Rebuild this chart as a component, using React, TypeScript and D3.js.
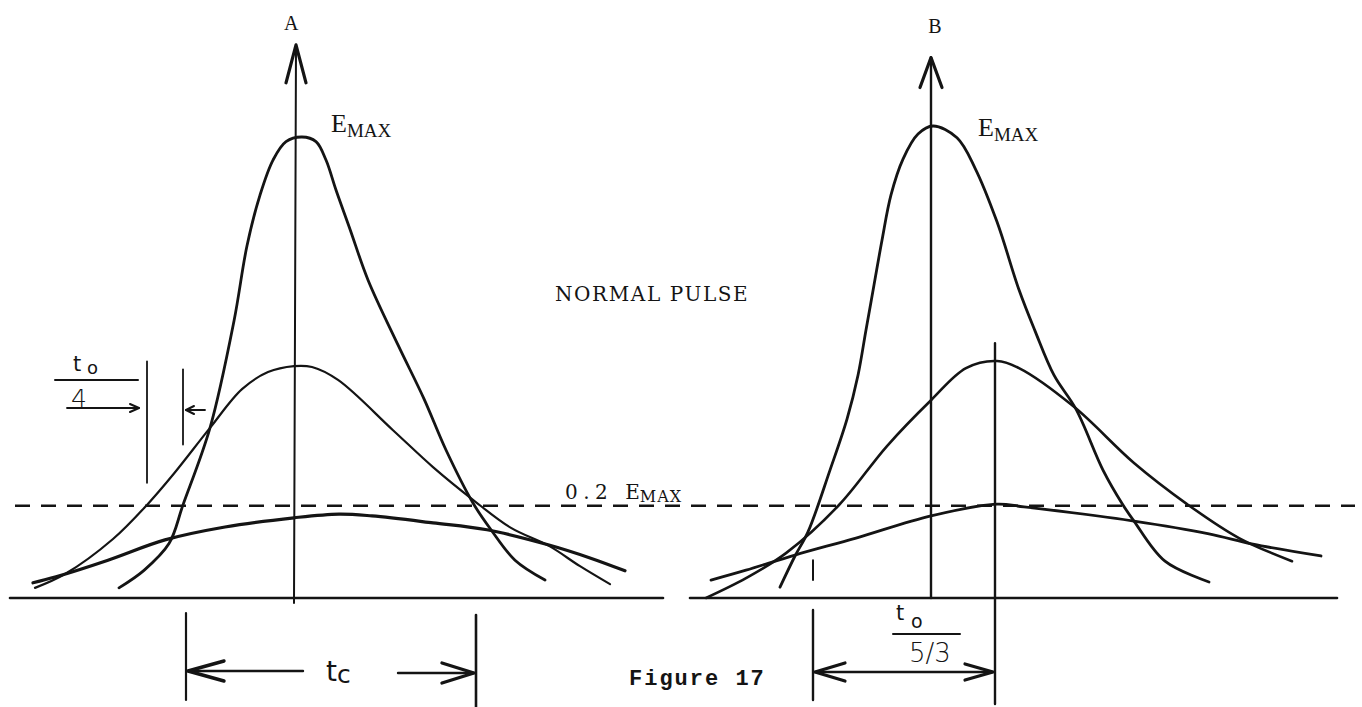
import React, { useEffect } from "react";
import * as d3 from "d3";

type Pt = [number, number];

// pulses: [time, E / E_MAX]; time 0 is each panel's vertical axis
const pulseATall: Pt[] = [
  [-1.75, 0.022], [-1.5, 0.06], [-1.25, 0.118], [-1.11, 0.202], [-0.84, 0.369], [-0.6, 0.601],
  [-0.47, 0.764], [-0.34, 0.874], [-0.21, 0.95], [-0.08, 0.99], [0.08, 1.0],
  [0.22, 0.99], [0.32, 0.95], [0.42, 0.885], [0.56, 0.8], [0.74, 0.69], [1.04, 0.549],
  [1.3, 0.432], [1.52, 0.321], [1.79, 0.206], [1.97, 0.148], [2.21, 0.082], [2.51, 0.039],
];
const pulseAMid: Pt[] = [
  [-2.59, 0.022], [-2.29, 0.052], [-1.81, 0.128], [-1.47, 0.202], [-1.2, 0.27],
  [-0.84, 0.369], [-0.52, 0.453], [-0.26, 0.49], [0, 0.503], [0.18, 0.501],
  [0.44, 0.473], [0.99, 0.364], [1.39, 0.284], [1.79, 0.213], [2.17, 0.152],
  [2.55, 0.113], [2.86, 0.069], [3.16, 0.03],
];
const pulseAFlat: Pt[] = [
  [-2.61, 0.033], [-2.38, 0.046], [-1.86, 0.082], [-1.29, 0.126], [-0.69, 0.154],
  [0, 0.174], [0.45, 0.182], [0.78, 0.178], [1.39, 0.163], [1.93, 0.148],
  [2.55, 0.115], [2.96, 0.087], [3.31, 0.059],
];
const pulseBTall: Pt[] = [
  [-1.51, 0.023], [-1.36, 0.089], [-1.23, 0.14], [-1.01, 0.271], [-0.84, 0.379],
  [-0.73, 0.472], [-0.65, 0.568], [-0.57, 0.663], [-0.49, 0.758], [-0.4, 0.854],
  [-0.28, 0.93], [-0.13, 0.983], [0.02, 1.0], [0.26, 0.975], [0.44, 0.911],
  [0.66, 0.797], [0.88, 0.653], [1.04, 0.566], [1.23, 0.472], [1.45, 0.4],
  [1.72, 0.271], [1.92, 0.197], [2.03, 0.163], [2.34, 0.078], [2.78, 0.034],
];
const pulseBMid: Pt[] = [
  [-2.25, 0.0], [-1.85, 0.042], [-1.45, 0.095], [-0.92, 0.197], [-0.44, 0.322],
  [0, 0.419], [0.35, 0.487], [0.66, 0.502], [0.88, 0.487], [1.43, 0.405],
  [2.03, 0.286], [2.56, 0.199], [3.08, 0.127], [3.61, 0.078],
];
const pulseBFlat: Pt[] = [
  [-2.2, 0.038], [-1.85, 0.059], [-1.36, 0.091], [-0.75, 0.127], [0, 0.174],
  [0.66, 0.199], [0.93, 0.193], [2.03, 0.163], [2.78, 0.136], [3.22, 0.114], [3.9, 0.089],
];

const threshold = 0.2; // 0.2 E_MAX
const quarterMarks = [-1.47, -1.11]; // t_o / 4 (panel A)
const tcMarks = [-1.08, 1.82]; // t_c (panel A)
const toMarks = [-1.18, 0.64]; // t_o / (5/3) (panel B)

const W = 1362;
const H = 707;
const base = 598;

const xA = d3.scaleLinear().domain([-3, 4]).range([-6, 694]);
const xB = d3.scaleLinear().domain([-3, 4]).range([631, 1331]);
const yA = d3.scaleLinear().domain([0, 1]).range([base, 137]);
const yB = d3.scaleLinear().domain([0, 1]).range([base, 126]);

const ink = "#141414";
const serif = "'Liberation Serif', serif";
const type = "'DejaVu Serif', serif";
const mono = "'Liberation Mono', monospace";
const hand = "'DejaVu Sans', sans-serif";

function curve(x: d3.ScaleLinear<number, number>, y: d3.ScaleLinear<number, number>) {
  return d3
    .line<Pt>()
    .x((d) => x(d[0]))
    .y((d) => y(d[1]))
    .curve(d3.curveCatmullRom.alpha(0.5));
}

// open "V" arrow head, tip at (x, y), pointing along (dx, dy)
function head(x: number, y: number, dx: number, dy: number, len: number, half: number) {
  const bx = x - dx * len;
  const by = y - dy * len;
  return `M${bx - dy * half},${by + dx * half}L${x},${y}L${bx + dy * half},${by - dx * half}`;
}

export default function App() {
  useEffect(() => {
    document.body.style.margin = "0";
  }, []);

  const lineA = curve(xA, yA);
  const lineB = curve(xB, yB);
  const yThr = yA(threshold);

  const [q1, q2] = quarterMarks.map((t) => xA(t));
  const [c1, c2] = tcMarks.map((t) => xA(t));
  const [o1, o2] = toMarks.map((t) => xB(t));
  const dimY = base + 74;

  return (
    <svg
      width={W}
      height={H}
      style={{ position: "absolute", left: 0, top: 0, background: "#fff" }}
    >
      <g fill="none" stroke={ink} strokeLinecap="round" strokeLinejoin="round">
        {/* baselines */}
        <line x1={xA(-2.84)} x2={xA(3.69)} y1={base} y2={base} strokeWidth={2.6} />
        <line x1={xB(-2.41)} x2={xB(4.06)} y1={base} y2={base} strokeWidth={2.6} />

        {/* vertical axes */}
        <line x1={xA(0)} x2={xA(0.02)} y1={base + 5} y2={yA(1.2)} strokeWidth={2} />
        <path d={head(xA(0.02), yA(1.2), 0, -1, 38, 10)} strokeWidth={3.2} />
        <line x1={xB(0)} x2={xB(0)} y1={base} y2={yB(1.145)} strokeWidth={2.4} />
        <path d={head(xB(0), yB(1.145), 0, -1, 30, 11)} strokeWidth={3.2} />

        {/* 0.2 E_MAX dashed line */}
        <line
          x1={15}
          x2={1355}
          y1={yThr}
          y2={yThr}
          strokeWidth={2.4}
          strokeDasharray="15 11"
          strokeLinecap="butt"
        />

        {/* pulses */}
        <path d={lineA(pulseATall) ?? ""} strokeWidth={2.8} />
        <path d={lineA(pulseAMid) ?? ""} strokeWidth={2.2} />
        <path d={lineA(pulseAFlat) ?? ""} strokeWidth={3.2} />
        <path d={lineB(pulseBTall) ?? ""} strokeWidth={2.8} />
        <path d={lineB(pulseBMid) ?? ""} strokeWidth={2.6} />
        <path d={lineB(pulseBFlat) ?? ""} strokeWidth={2.8} />

        {/* t_o / 4 */}
        <line x1={q1} x2={q1} y1={yA(0.513)} y2={yA(0.25)} strokeWidth={1.8} />
        <line x1={q2} x2={q2} y1={yA(0.496)} y2={yA(0.333)} strokeWidth={1.8} />
        <line x1={55} x2={138} y1={380} y2={380} strokeWidth={2} />
        <line x1={67} x2={q1 - 8} y1={408} y2={408} strokeWidth={1.8} />
        <path d={head(q1 - 8, 408, 1, 0, 9, 4)} strokeWidth={2} />
        <line x1={q2 + 3} x2={q2 + 22} y1={410} y2={410} strokeWidth={1.8} />
        <path d={head(q2 + 3, 410, -1, 0, 8, 4)} strokeWidth={2} />

        {/* t_c */}
        <line x1={c1} x2={c1} y1={base + 15} y2={base + 102} strokeWidth={2.2} />
        <line x1={c2} x2={c2} y1={base + 17} y2={H} strokeWidth={2.6} />
        <line x1={c1 + 2} x2={c1 + 117} y1={dimY - 1} y2={dimY - 1} strokeWidth={2.4} />
        <path d={head(c1 + 2, dimY - 1, -1, 0, 36, 10)} strokeWidth={3.4} />
        <line x1={c1 + 212} x2={c2 - 2} y1={dimY + 1} y2={dimY + 1} strokeWidth={2.4} />
        <path d={head(c2 - 2, dimY + 1, 1, 0, 32, 10)} strokeWidth={3.4} />

        {/* t_o / (5/3) */}
        <line x1={o1} x2={o1} y1={yB(0.08)} y2={yB(0.038)} strokeWidth={2} />
        <line x1={o1} x2={o1} y1={base + 12} y2={base + 102} strokeWidth={2.4} />
        <line x1={o2} x2={o2} y1={yB(0.54)} y2={H - 3} strokeWidth={2.4} />
        <line x1={o1 + 2} x2={o2 - 2} y1={dimY} y2={dimY} strokeWidth={2.4} />
        <path d={head(o1 + 2, dimY, -1, 0, 30, 9)} strokeWidth={3.2} />
        <path d={head(o2 - 2, dimY, 1, 0, 28, 8)} strokeWidth={3.2} />
        <line x1={893} x2={960} y1={634} y2={634} strokeWidth={2} />
      </g>

      <g fill={ink}>
        <text x={xA(0) - 10} y={30} fontFamily={serif} fontSize={20}>
          A
        </text>
        <text x={xB(0) + 4} y={33} fontFamily={serif} fontSize={20} textAnchor="middle">
          B
        </text>

        <text x={xA(0) + 37} y={132} fontFamily={serif} fontSize={26}>
          E<tspan fontSize={19} dy={5}>MAX</tspan>
        </text>
        <text x={xB(0) + 47} y={136} fontFamily={serif} fontSize={26}>
          E<tspan fontSize={19} dy={5}>MAX</tspan>
        </text>

        <text x={555} y={301} fontFamily={type} fontSize={20} letterSpacing={1.6}>
          NORMAL PULSE
        </text>

        <text x={565} y={499} fontFamily={type} fontSize={20} letterSpacing={5.5}>
          0.2 <tspan letterSpacing={0}>E</tspan>
          <tspan fontSize={16} dy={3} letterSpacing={1}>MAX</tspan>
        </text>

        <text x={73} y={371} fontFamily={hand} fontSize={21}>t</text>
        <text x={87} y={374} fontFamily={hand} fontSize={18}>o</text>
        <text x={71} y={407} fontFamily={hand} fontSize={25} fontWeight={300}>4</text>

        <text x={326} y={681} fontFamily={hand} fontSize={28}>t</text>
        <text x={337} y={683} fontFamily={hand} fontSize={25}>c</text>

        <text x={896} y={620} fontFamily={hand} fontSize={21}>t</text>
        <text x={911} y={628} fontFamily={hand} fontSize={19}>o</text>
        <text x={909} y={662} fontFamily={hand} fontSize={26} fontWeight={300}>5/3</text>

        <text x={629} y={685} fontFamily={mono} fontSize={22} fontWeight="bold" letterSpacing={2}>
          Figure 17
        </text>
      </g>
    </svg>
  );
}
